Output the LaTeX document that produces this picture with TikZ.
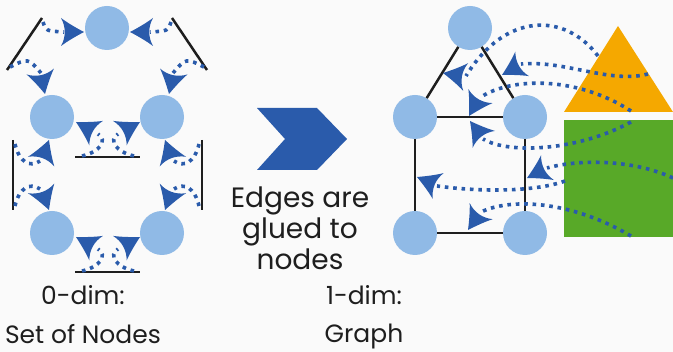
\documentclass[tikz,border=0pt]{standalone}
\usepackage{fontspec}
\setmainfont{Poppins}
\definecolor{bg}{HTML}{FAFAFA}
\definecolor{nblue}{HTML}{90BAE6}
\definecolor{ablue}{HTML}{2A5BAB}
\definecolor{tri}{HTML}{F5A800}
\definecolor{grn}{HTML}{58A928}
\definecolor{ink}{HTML}{1E1E1E}
\tikzset{
  cnode/.style={circle, fill=nblue, minimum size=44pt, inner sep=0pt},
  wall/.style={draw=ink, line width=2.5pt},
  edge/.style={draw=ink, line width=2.5pt},
  dots/.style={draw=ablue, line width=3.6pt, dash pattern=on 3.6pt off 4.8pt},
  lbl/.style={text=ink, font=\fontsize{28}{32}\selectfont, anchor=base, inner sep=0pt},
  captext/.style={text=ink, font=\fontsize{25}{30}\selectfont, anchor=base, inner sep=0pt},
  ah/.pic={\fill[ablue] (0,0) .. controls (-8,4.2) and (-16,8.8) .. (-23,14)
      .. controls (-18,5) and (-18,-5) .. (-23,-14)
      .. controls (-16,-8.8) and (-8,-4.2) .. (0,0) -- cycle;}
}
\begin{document}
\begin{tikzpicture}[x=1pt,y=-1pt]
\useasboundingbox (0,0) rectangle (673,352);
\fill[bg] (0,0) rectangle (673,352);

% ---------- left: set of nodes ----------
\node[cnode] (LT)  at (107,28) {};
\node[cnode] (LML) at (52,117) {};
\node[cnode] (LMR) at (162,117) {};
\node[cnode] (LBL) at (52,233) {};
\node[cnode] (LBR) at (162,233) {};

\coordinate (w1a) at (42,18);  \coordinate (w1b) at (7,70);
\coordinate (w2a) at (172,18); \coordinate (w2b) at (207,70);
\coordinate (w3a) at (75,157); \coordinate (w3b) at (140,157);
\coordinate (w4a) at (13,140); \coordinate (w4b) at (13,210);
\coordinate (w5a) at (202,140);\coordinate (w5b) at (202,210);
\coordinate (w6a) at (75,272); \coordinate (w6b) at (140,272);
\draw[wall] (w1a) -- (w1b);
\draw[wall] (w2a) -- (w2b);
\draw[wall] (w3a) -- (w3b);
\draw[wall] (w4a) -- (w4b);
\draw[wall] (w5a) -- (w5b);
\draw[wall] (w6a) -- (w6b);

\draw[dots] (43,22) .. controls (46,31) .. (64,32);
\draw[dots] (10,67) .. controls (28,58) .. (41,73);
\draw[dots] (171,22) .. controls (168,31) .. (150,32);
\draw[dots] (204,67) .. controls (186,58) .. (173,73);
\draw[dots] (82,156) .. controls (100,152) and (108,140) .. (98,134);
\draw[dots] (134,156) .. controls (116,152) and (108,140) .. (118,134);
\draw[dots] (15,144) .. controls (19,162) and (30,168) .. (40,161);
\draw[dots] (15,206) .. controls (19,188) and (30,182) .. (40,189);
\draw[dots] (199,144) .. controls (195,162) and (184,168) .. (174,161);
\draw[dots] (199,206) .. controls (195,188) and (184,182) .. (174,189);
\draw[dots] (82,271) .. controls (100,267) and (108,255) .. (98,249);
\draw[dots] (134,271) .. controls (116,267) and (108,255) .. (118,249);

\pic[rotate=0]    at (84,32)  {ah};
\pic[rotate=180]  at (130,32) {ah};
\pic[rotate=-78]  at (45,94)  {ah};
\pic[rotate=-102] at (169,94) {ah};
\pic[rotate=151]  at (76,122) {ah};
\pic[rotate=29]   at (140,122){ah};
\pic[rotate=70]   at (49,140) {ah};
\pic[rotate=-70]  at (49,210) {ah};
\pic[rotate=110]  at (165,140){ah};
\pic[rotate=-110] at (165,210){ah};
\pic[rotate=151]  at (76,237) {ah};
\pic[rotate=29]   at (140,237){ah};

% ---------- middle ----------
\fill[ablue] (257,108) -- (317,108) -- (347,139) -- (317,170) -- (257,170) -- (285,139) -- cycle;
\node[lbl] at (300,208) {Edges are};
\node[lbl] at (300,239) {glued to};
\node[lbl] at (300,270) {nodes};

\node[captext] at (83,305) {0-dim:};
\node[captext] at (83,344) {Set of Nodes};
\node[captext] at (364,305) {1-dim:};
\node[captext] at (364,343) {Graph};

% ---------- right: graph ----------
\node[cnode] (GT)  at (470,28) {};
\node[cnode] (GML) at (415,117) {};
\node[cnode] (GMR) at (525,117) {};
\node[cnode] (GBL) at (415,233) {};
\node[cnode] (GBR) at (525,233) {};
\draw[edge] (GT) -- (GML);
\draw[edge] (GT) -- (GMR);
\draw[edge] (GML) -- (GMR);
\draw[edge] (GML) -- (GBL);
\draw[edge] (GMR) -- (GBR);
\draw[edge] (GBL) -- (GBR);

\fill[tri] (618,26) -- (673,112) -- (564,112) -- cycle;
\fill[grn] (564,120) rectangle (673,237);

\draw[dots] (598,56) .. controls (565,12) and (505,12) .. (466,76);
\draw[dots] (648,74) .. controls (610,84) and (565,60) .. (521,64);
\draw[dots] (631,111) .. controls (575,75) and (510,78) .. (481,97);
\draw[dots] (631,122) .. controls (580,150) and (510,155) .. (483,139);
\draw[dots] (673,178) .. controls (630,158) and (575,160) .. (547,168);
\draw[dots] (565,181) .. controls (535,192) and (480,192) .. (437,186);
\draw[dots] (631,236) .. controls (570,200) and (510,198) .. (481,212);

\pic[rotate=170]  at (443,73)  {ah};
\pic[rotate=209]  at (502,75)  {ah};
\pic[rotate=-120] at (469,116) {ah};
\pic[rotate=127]  at (470,121) {ah};
\pic[rotate=207]  at (527,178) {ah};
\pic[rotate=157]  at (417,177) {ah};
\pic[rotate=-125] at (468,230) {ah};
\end{tikzpicture}
\end{document}
